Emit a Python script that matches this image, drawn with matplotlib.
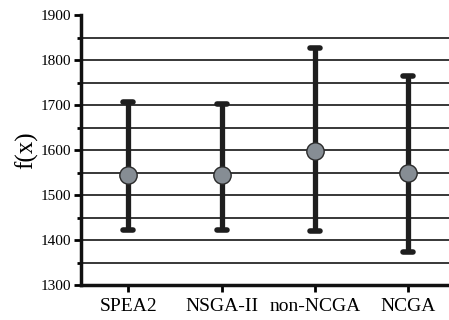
import matplotlib
matplotlib.use("Agg")
import matplotlib.pyplot as plt
import numpy as np

categories = ["SPEA2", "NSGA-II", "non-NCGA", "NCGA"]
means = [1544, 1544, 1599, 1550]
upper = [1707, 1702, 1827, 1765]
lower = [1423, 1423, 1420, 1375]
yticks = [1300, 1400, 1500, 1600, 1700, 1800, 1900]
yminor = [1350, 1450, 1550, 1650, 1750, 1850]

plt.rcParams['font.family'] = ['Liberation Serif', 'DejaVu Serif']

fig = plt.figure(figsize=(4.49, 3.2), dpi=100)
ax = fig.add_axes([81/449, 1 - 285.3/320, 1 - 81/449, (285.3 - 15)/320])

x = np.arange(len(categories))
m = np.array(means)
yerr = [m - np.array(lower), np.array(upper) - m]

ax.errorbar(x, m, yerr=yerr, fmt='none', ecolor='#1e1e1e',
            elinewidth=3.8, capsize=0, zorder=3)
cap_half = 0.055
for yv in (lower, upper):
    lc = ax.hlines(yv, x - cap_half, x + cap_half, colors='#1e1e1e', linewidth=4.0, zorder=3)
    lc.set_capstyle('round')
ax.plot(x, m, 'o', markersize=12.5, markerfacecolor='#868d94',
        markeredgecolor='#2a2a2a', markeredgewidth=1.0, zorder=4)

ax.set_xlim(-0.507, 3.436)
ax.set_ylim(1300, 1900)
ax.set_yticks(yticks)
ax.set_yticks(yminor, minor=True)
ax.set_xticks(x)
ax.set_xticklabels(categories, fontsize=14)
ax.tick_params(axis='y', which='major', labelsize=11, length=5, width=2, direction='out', pad=2)
ax.tick_params(axis='y', which='minor', length=3, width=2, direction='out')
ax.tick_params(axis='x', length=5, width=2, direction='out', pad=4)

ax.grid(True, axis='y', which='both', color='#282828', linewidth=1.3, zorder=0)
ax.set_axisbelow(True)
ax.yaxis.get_major_ticks()[-1].gridline.set_visible(False)

for s in ['top', 'right']:
    ax.spines[s].set_visible(False)
for s in ['left', 'bottom']:
    ax.spines[s].set_linewidth(2.5)
    ax.spines[s].set_color('#111111')

ax.set_ylabel("f(x)", fontsize=18, labelpad=2)

fig.savefig("out.png", dpi=100)
